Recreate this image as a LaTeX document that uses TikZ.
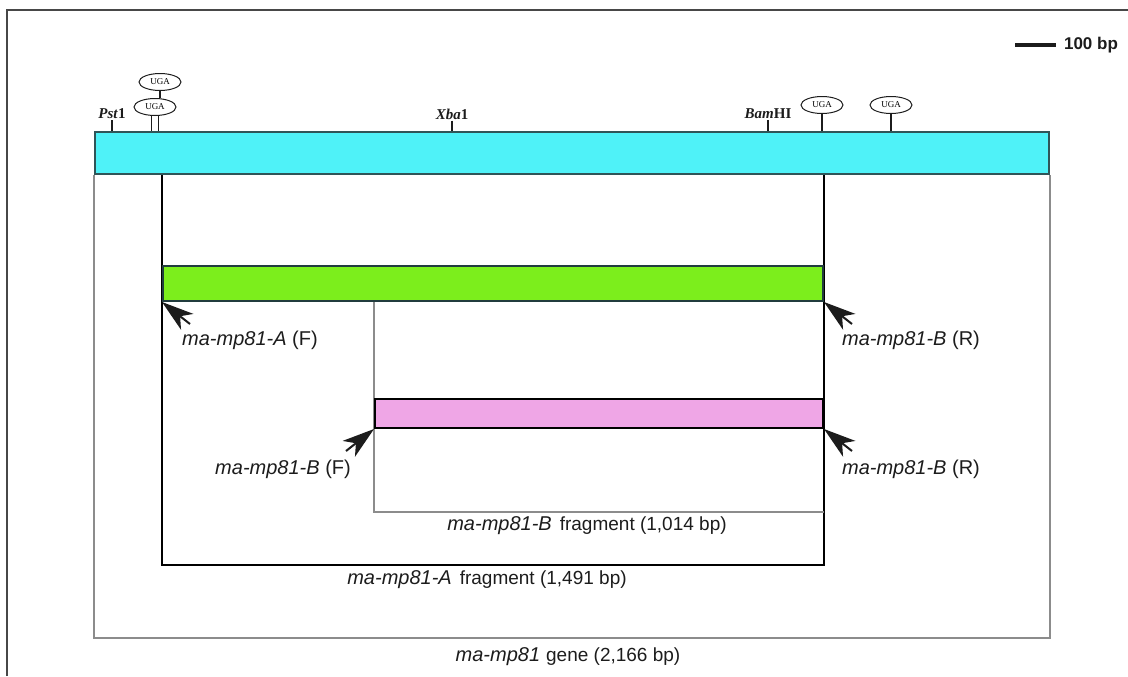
\documentclass[tikz,border=0pt]{standalone}
\usepackage{fontspec}
\setmainfont{Liberation Sans}
\newfontfamily\siteface{Liberation Serif}
\usepackage{xcolor}
\usetikzlibrary{arrows.meta,positioning,calc,backgrounds,shapes.geometric}
\definecolor{cCyan}{HTML}{4FF2F8}
\definecolor{cLime}{HTML}{7CEE1C}
\definecolor{cPink}{HTML}{EFA6E6}
\definecolor{cTeal}{HTML}{2F5558}
\definecolor{cInk}{HTML}{1C1C1C}
\definecolor{cGray}{HTML}{8C8C8C}
\definecolor{cFrame}{HTML}{474747}
\tikzset{
  bar/.style={draw=#1,anchor=north west,inner sep=0pt,line width=1pt},
  glbl/.style={font=\fontsize{10}{12}\selectfont,text=cInk,inner sep=1pt},
  site/.style={font=\siteface\bfseries\itshape\fontsize{7.5}{9}\selectfont,text=cInk,inner sep=0.5pt},
  uga/.style={ellipse,draw=cInk,line width=0.5pt,minimum width=21pt,minimum height=8.5pt,inner sep=0pt,font=\siteface\fontsize{4.5}{5}\selectfont,fill=white},
  sitetick/.style={line width=0.6pt,draw=cInk},
  brk/.style={line width=#1},
  primer/.style={-{Stealth[length=16pt,width=10pt,inset=4.5pt]},line width=1pt,draw=cInk},
}
\newcommand{\fragtxt}[1]{{\fontsize{9.5}{11}\selectfont #1}}

\begin{document}
\begin{tikzpicture}[x=0.5pt,y=-0.5pt]
  \useasboundingbox (0,0) rectangle (1128,676);
  \draw[cFrame,line width=1.1pt] (7,676) -- (7,10) -- (1128,10);

  % the three bars
  \node[bar=cTeal,fill=cCyan,minimum width=477pt,minimum height=21pt] (gene) at (94,131) {};
  \node[bar=cTeal!70!black,fill=cLime,minimum width=330pt,minimum height=17.5pt] (fragA) at (162,265) {};
  \node[bar=black,fill=cPink,minimum width=224pt,minimum height=14.5pt] (fragB) at (374,398) {};

  % brackets under the bars
  \coordinate (geneBase) at (0,638);
  \coordinate (aBase) at (0,565);
  \coordinate (bBase) at (0,512);
  \begin{scope}[on background layer]
    \draw[brk=1pt,cGray] (gene.south west) |- (geneBase -| gene.south east) -- (gene.south east);
    \draw[brk=0.8pt,black] (fragA.south west |- gene.south) |- (aBase -| fragA.south east) -- (fragA.south east |- gene.south);
    \draw[brk=1pt,cGray] (fragB.north west |- fragA.south) |- (bBase -| fragB.south east);
  \end{scope}

  % restriction sites and stop codons
  \node[site] (pst) at (112,114) {Pst\textup{1}};
  \node[site] (xba) at (452,114) {Xba\textup{1}};
  \node[site] (bam) at (768,114) {Bam\textup{HI}};
  \foreach \s in {pst,xba,bam}
    \draw[sitetick] (\s.south) -- (\s.south |- gene.north);
  \node[uga] (u0) at (160,82) {UGA};
  \node[uga] (u1) at (155,107) {UGA};
  \node[uga] (u2) at (822,105) {UGA};
  \node[uga] (u3) at (891,105) {UGA};
  \draw[sitetick] (u0.south) -- (u0.south |- u1.north);
  \draw[sitetick] ([xshift=-1.8pt]u1.south) -- ([xshift=-1.8pt]u1.south |- gene.north);
  \draw[sitetick] ([xshift=1.8pt]u1.south) -- ([xshift=1.8pt]u1.south |- gene.north);
  \draw[sitetick] (u2.south) -- (u2.south |- gene.north);
  \draw[sitetick] (u3.south) -- (u3.south |- gene.north);

  % scale
  \node[font=\bfseries\fontsize{8.5}{10}\selectfont,text=cInk,inner sep=0pt] (scale) at (1091,45) {100 bp};
  \draw[line width=1.6pt,cInk] ([xshift=-4pt]scale.west) -- ++(-41,0);

  % primers
  \coordinate (pAF) at ([shift={(28,22)}]fragA.south west);
  \coordinate (pAR) at ([shift={(28,22)}]fragA.south east);
  \coordinate (pBF) at ([shift={(-28,22)}]fragB.south west);
  \coordinate (pBR) at ([shift={(28,22)}]fragB.south east);
  \draw[primer] (pAF) -- (fragA.south west);
  \draw[primer] (pAR) -- (fragA.south east);
  \draw[primer] (pBF) -- (fragB.south west);
  \draw[primer] (pBR) -- (fragB.south east);
  \node[glbl] (lAF) at (250,340) {\textit{ma-mp81-A} (F)};
  \node[glbl] (lAR) at (911,340) {\textit{ma-mp81-B} (R)};
  \node[glbl] (lBF) at (283,469) {\textit{ma-mp81-B} (F)};
  \node[glbl] (lBR) at (911,469) {\textit{ma-mp81-B} (R)};

  % fragment sizes
  \node[glbl] (szB) at (587,526) {\textit{ma-mp81-B}\hspace{4pt}\fragtxt{fragment (1,014 bp)}};
  \node[glbl] (szA) at (487,580) {\textit{ma-mp81-A}\hspace{4pt}\fragtxt{fragment (1,491 bp)}};
  \node[glbl] (szG) at (568,657) {\textit{ma-mp81}\hspace{3pt}\fragtxt{gene (2,166 bp)}};
\end{tikzpicture}
\end{document}
